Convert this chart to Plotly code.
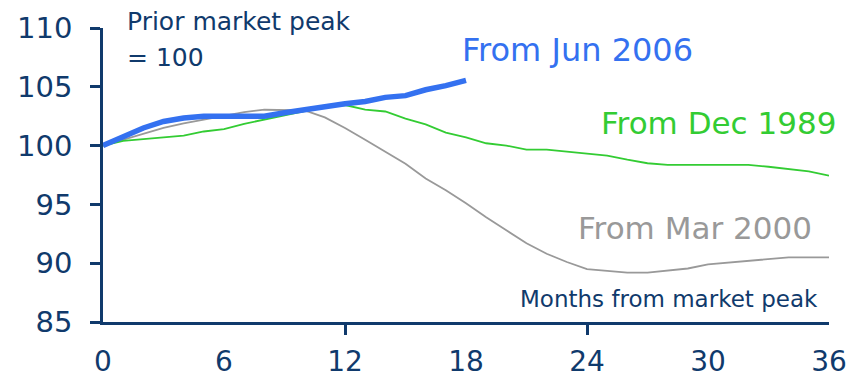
import plotly.graph_objects as go

months = list(range(0, 37))

jun2006 = [100.0, 100.75, 101.5, 102.05, 102.35, 102.5, 102.5, 102.45, 102.5, 102.8,
           103.05, 103.4, 103.55, 103.75, 104.1, 104.25, 104.75, 105.1, 105.55]

dec1989 = [100.0, 100.4, 100.55, 100.7, 100.85, 101.2, 101.4, 101.85, 102.2, 102.6,
           102.95, 103.3, 103.45, 103.05, 102.9, 102.3, 101.8, 101.1, 100.7, 100.2,
           100.0, 99.66, 99.66, 99.5, 99.3, 99.15, 98.8, 98.5, 98.36, 98.36,
           98.36, 98.36, 98.36, 98.2, 98.0, 97.8, 97.45]

mar2000 = [100.0, 100.5, 101.0, 101.5, 101.9, 102.2, 102.5, 102.85, 103.05, 103.05,
           103.0, 102.4, 101.5, 100.5, 99.5, 98.45, 97.2, 96.2, 95.1, 93.9,
           92.8, 91.7, 90.8, 90.1, 89.5, 89.35, 89.2, 89.2, 89.35, 89.55,
           89.9, 90.05, 90.2, 90.35, 90.5, 90.5, 90.5]

x_tick_labels = [0, 6, 12, 18, 24, 30, 36]
x_major_ticks = [0, 12, 24, 36]
y_ticks = [85, 90, 95, 100, 105, 110]

NAVY = "#103a6c"
BLUE = "#3471f0"
GREEN = "#33cc33"
GRAY = "#999999"
FONT = "DejaVu Sans"

fig = go.Figure()
fig.add_trace(go.Scatter(x=months[:len(mar2000)], y=mar2000, mode="lines",
                         line=dict(color=GRAY, width=1.8), showlegend=False))
fig.add_trace(go.Scatter(x=months[:len(dec1989)], y=dec1989, mode="lines",
                         line=dict(color=GREEN, width=1.8), showlegend=False))
fig.add_trace(go.Scatter(x=months[:len(jun2006)], y=jun2006, mode="lines",
                         line=dict(color=BLUE, width=5.5), showlegend=False))

fig.update_layout(
    width=861, height=382,
    margin=dict(l=103, r=32, t=28, b=60),
    paper_bgcolor="white", plot_bgcolor="white",
    font=dict(family=FONT, color=NAVY),
    xaxis=dict(range=[0, 36], tickvals=x_tick_labels, ticktext=[str(v) for v in x_tick_labels],
               ticks="inside", ticklen=0, showgrid=False, zeroline=False, automargin=False,
               showline=True, linecolor=NAVY, linewidth=2.5,
               tickfont=dict(size=28, color=NAVY, family=FONT),
               ticklabelstandoff=13,
               minor=dict(tickvals=x_major_ticks, ticks="outside", ticklen=10,
                          tickwidth=2.5, tickcolor=NAVY, showgrid=False)),
    yaxis=dict(range=[85, 110], tickvals=y_ticks, ticks="outside", ticklen=10,
               tickwidth=2.5, tickcolor=NAVY, showgrid=False, zeroline=False, automargin=False,
               showline=True, linecolor=NAVY, linewidth=2.5,
               tickfont=dict(size=29, color=NAVY, family=FONT),
               ticklabelstandoff=12),
)

H = 382
TOP, BOTTOM = 28, 60
PLOT_H = H - TOP - BOTTOM

annots = [
    dict(text="Prior market peak", x=1.1, y=22, yref="paper", xanchor="left", yanchor="middle",
         font=dict(size=25, color=NAVY)),
    dict(text="= 100", x=1.1, y=57, yref="paper", xanchor="left", yanchor="middle",
         font=dict(size=25, color=NAVY)),
    dict(text="From Jun 2006", x=23.55, y=108.1, yref="y", xanchor="center", yanchor="middle",
         font=dict(size=32, color=BLUE)),
    dict(text="From Dec 1989", x=30.54, y=101.95, yref="y", xanchor="center", yanchor="middle",
         font=dict(size=31, color=GREEN)),
    dict(text="From Mar 2000", x=29.37, y=92.97, yref="y", xanchor="center", yanchor="middle",
         font=dict(size=31, color=GRAY)),
    dict(text="Months from market peak", x=28.06, y=86.95, yref="y", xanchor="center",
         yanchor="middle", font=dict(size=23, color=NAVY)),
]
for a in annots:
    if a["yref"] == "paper":
        # pixel row (from top of page) converted to a paper fraction
        a["y"] = 1 + (TOP - a["y"]) / PLOT_H
    a["xref"] = "x"
    a["showarrow"] = False
    a["font"]["family"] = FONT
    fig.add_annotation(**a)

fig.write_html("out.html")
